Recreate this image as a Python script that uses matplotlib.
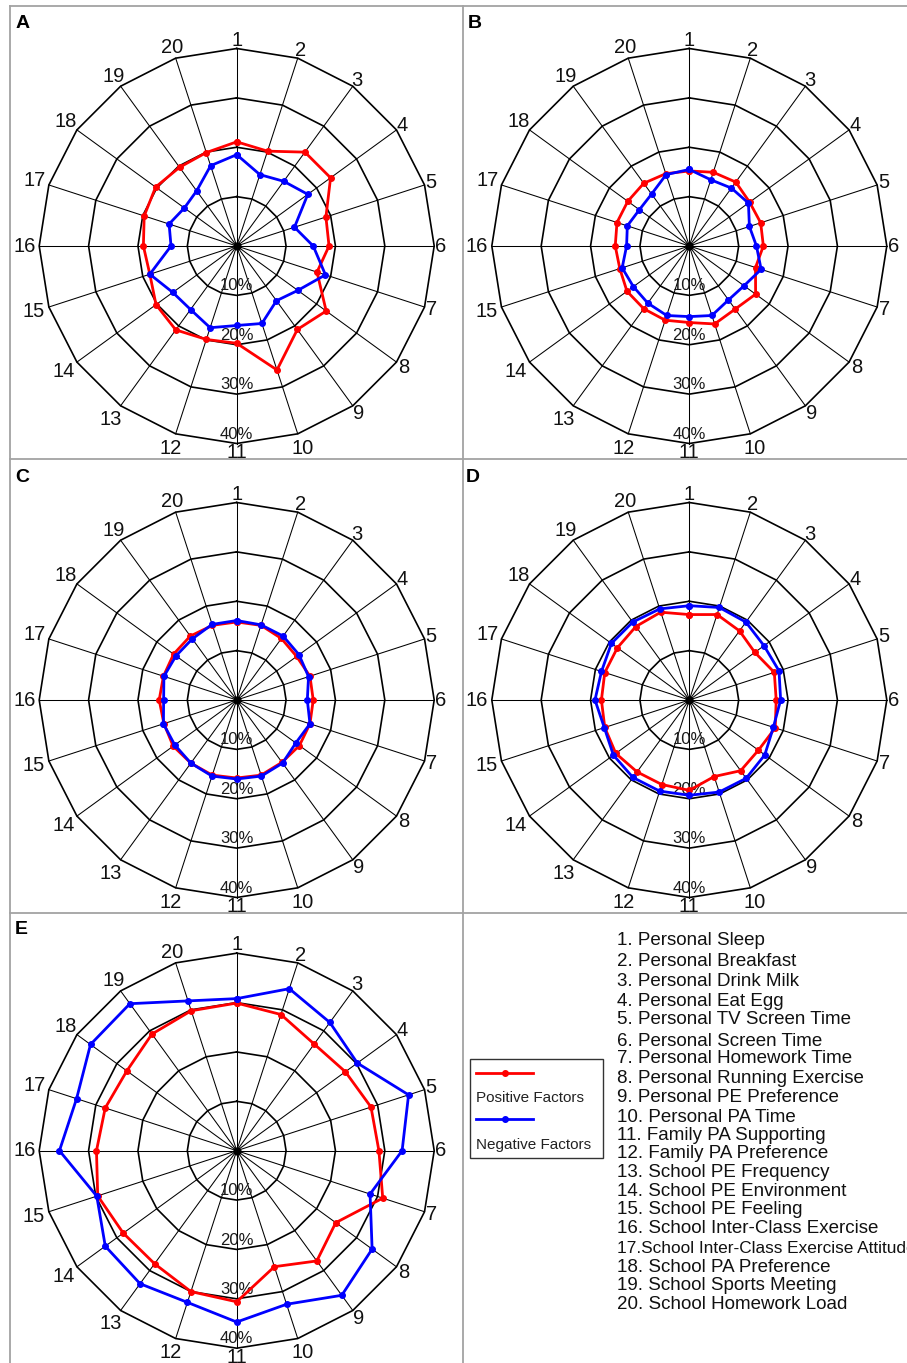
import numpy as np
import matplotlib
matplotlib.use("Agg")
import matplotlib.pyplot as plt
from matplotlib.lines import Line2D
from matplotlib.patches import Rectangle
from matplotlib.transforms import Bbox

plt.rcParams['font.family'] = ['Liberation Sans', 'DejaVu Sans']

W, H = 907, 1363

# ---------------------------------------------------------------- data
factor_names = [
    "1. Personal Sleep",
    "2. Personal Breakfast",
    "3. Personal Drink Milk",
    "4. Personal Eat Egg",
    "5. Personal TV Screen Time",
    "6. Personal Screen Time",
    "7. Personal Homework Time",
    "8. Personal Running Exercise",
    "9. Personal PE Preference",
    "10. Personal PA Time",
    "11. Family PA Supporting",
    "12. Family PA Preference",
    "13. School PE Frequency",
    "14. School PE Environment",
    "15. School PE Feeling",
    "16. School Inter-Class Exercise",
    "17.School Inter-Class Exercise Attitude",
    "18. School PA Preference",
    "19. School Sports Meeting",
    "20. School Homework Load",
]
axis_numbers = [str(i) for i in range(1, 21)]
ring_levels = [10, 20, 30, 40]
ring_labels = ["10%", "20%", "30%", "40%"]
series_names = ["Positive Factors", "Negative Factors"]
panel_letters = ["A", "B", "C", "D", "E"]

a_pos = [21.1, 20.2, 23.5, 23.5, 19.0, 18.7, 17.1, 22.4, 20.9, 26.4,
         19.7, 19.9, 21.0, 20.2, 18.5, 18.9, 19.7, 20.3, 19.7, 19.9]
a_neg = [18.5, 15.2, 16.2, 17.8, 12.3, 15.5, 18.9, 15.3, 13.7, 16.5,
         16.1, 17.4, 15.9, 16.0, 18.5, 13.3, 14.4, 13.1, 13.8, 17.1]
b_pos = [15.2, 15.7, 16.0, 15.1, 15.2, 15.0, 14.1, 16.6, 15.8, 16.6,
         15.5, 15.8, 15.7, 15.6, 14.8, 15.0, 15.4, 15.4, 15.7, 15.4]
b_neg = [15.5, 14.1, 14.5, 14.8, 12.8, 13.6, 15.3, 13.7, 13.5, 14.8,
         14.3, 14.8, 14.3, 14.0, 14.3, 12.7, 13.2, 12.5, 13.0, 15.2]
c_pos = [15.8, 15.9, 15.4, 15.0, 15.6, 15.5, 15.6, 15.7, 15.6, 16.0,
         15.8, 16.0, 15.8, 15.9, 15.5, 15.7, 15.6, 15.8, 16.0, 15.9]
c_neg = [16.1, 16.0, 16.0, 15.6, 15.3, 14.3, 15.6, 14.8, 15.8, 16.2,
         16.0, 16.2, 15.8, 15.5, 15.6, 14.8, 15.5, 15.2, 15.3, 16.1]
d_pos = [17.3, 18.2, 17.3, 16.4, 18.1, 17.6, 18.3, 17.3, 17.7, 16.3,
         18.3, 18.0, 18.0, 18.4, 18.0, 17.8, 18.0, 18.0, 18.4, 18.7]
d_neg = [19.1, 19.7, 19.5, 18.7, 19.1, 18.5, 17.9, 18.9, 19.6, 19.6,
         19.3, 19.4, 19.4, 19.0, 18.1, 19.1, 18.7, 19.5, 19.5, 19.4]
e_pos = [29.9, 29.0, 26.7, 27.2, 28.6, 28.8, 31.1, 24.8, 27.6, 24.7,
         30.6, 30.0, 28.3, 28.4, 29.6, 28.4, 28.0, 27.5, 29.2, 29.8]
e_neg = [30.8, 34.5, 32.1, 30.2, 36.6, 33.5, 28.4, 33.9, 36.2, 32.7,
         34.7, 32.3, 33.3, 32.9, 29.8, 35.9, 34.1, 36.6, 36.8, 31.9]

panels = [(a_pos, a_neg), (b_pos, b_neg), (c_pos, c_neg),
          (d_pos, d_neg), (e_pos, e_neg)]

# ---------------------------------------------------------------- layout (pixels, y measured from the top)
R_PX = 197.5
centers = [(236.7, 246.0), (689.3, 246.0), (236.7, 700.0),
           (689.3, 700.0), (236.7, 1150.7)]
panel_rects = [(10, 5.5, 463, 459), (463, 5.5, 907, 459),
               (10, 459, 463, 913), (463, 459, 907, 913),
               (10, 913, 463, 1363)]
letter_pos = [(16, 28.5), (468, 27.5), (15, 481.5), (466, 481.5), (15, 933.5)]
POS_COLOR = "#ff0000"
NEG_COLOR = "#0000ff"
GRID_COLOR = "#a3a3a3"


def fx(x):
    return x / W


def fy(y):
    return 1 - y / H


def label_radius(t, lab):
    """Radius for an axis number: wider labels sit further out at the sides."""
    s, c = abs(np.sin(t)), np.cos(t)
    if len(lab) == 1:
        return 41.7 + 0.6 * max(0.0, -c) - 0.3 * s
    return 41.8 + 1.2 * s + 1.0 * max(0.0, -c) * min(1.0, 3 * s)


fig = plt.figure(figsize=(W / 100, H / 100), dpi=100)

# panel frame
frame_lines = [
    ((10, 907), (5.5, 5.5)),
    ((10, 10), (5.5, 1363)),
    ((463, 463), (5.5, 1363)),
    ((10, 907), (459, 459)),
    ((10, 907), (913, 913)),
]
for xs, ys in frame_lines:
    fig.add_artist(Line2D([fx(x) for x in xs], [fy(y) for y in ys],
                          color=GRID_COLOR, lw=1.3, transform=fig.transFigure))

n = len(axis_numbers)
theta = np.arange(n) * 2 * np.pi / n
theta_closed = np.append(theta, theta[0])
rmax = ring_levels[-1]

for k, ((pos, neg), (cx, cy)) in enumerate(zip(panels, centers)):
    ax = fig.add_axes([fx(cx - R_PX), fy(cy + R_PX), 2 * R_PX / W, 2 * R_PX / H],
                      projection="polar")
    ax.set_theta_zero_location("N")
    ax.set_theta_direction(-1)
    ax.set_ylim(0, rmax)
    ax.grid(False)
    ax.set_xticks([])
    ax.set_yticks([])
    ax.spines["polar"].set_visible(False)
    ax.patch.set_visible(False)

    # spokes
    for t in theta:
        ax.plot([t, t], [0, rmax], color="black", lw=0.75, clip_on=False, zorder=1)
    # polygonal rings
    for lvl in ring_levels:
        ax.plot(theta_closed, [lvl] * (n + 1), color="black", lw=1.2,
                clip_on=False, zorder=1)
    ax.plot([0], [0], "o", color="black", ms=5, zorder=2)

    # ring value labels along the bottom spoke
    for lvl, lab in zip(ring_levels, ring_labels):
        ax.text(np.pi, lvl - 1.9, lab, ha="center", va="center",
                fontsize=12, color="#1a1a1a", zorder=3)

    # category numbers, clipped to the panel frame
    x0, y0, x1, y1 = panel_rects[k]
    clip = Bbox.from_extents(x0, H - y1, x1, H - y0)
    for t, lab in zip(theta, axis_numbers):
        txt = ax.text(t, label_radius(t, lab), lab, ha="center", va="center",
                      fontsize=14.5, color="#111111", zorder=3)
        txt.set_clip_on(True)
        txt.set_clip_box(clip)

    # series
    ax.plot(theta_closed, list(pos) + [pos[0]], color=POS_COLOR, lw=2.0,
            marker="o", ms=4, zorder=4)
    ax.plot(theta_closed, list(neg) + [neg[0]], color=NEG_COLOR, lw=2.0,
            marker="o", ms=4, zorder=5)

    lx, ly = letter_pos[k]
    fig.text(fx(lx), fy(ly), panel_letters[k], fontsize=14, fontweight="bold",
             ha="left", va="baseline")

# legend box
fig.add_artist(Rectangle((fx(470), fy(1157.7)), fx(603.3) - fx(470),
                         fy(1059.3) - fy(1157.7), transform=fig.transFigure,
                         fill=False, edgecolor="#333333", lw=1.0))
for (line_y, text_y), name, col in zip([(1072.7, 1098.3), (1119.0, 1144.3)],
                                       series_names, [POS_COLOR, NEG_COLOR]):
    fig.add_artist(Line2D([fx(476), fx(533.3)], [fy(line_y), fy(line_y)],
                          color=col, lw=2.0, transform=fig.transFigure))
    fig.add_artist(Line2D([fx(505)], [fy(line_y)], color=col, marker="o",
                          ms=4, transform=fig.transFigure))
    fig.text(fx(476), fy(text_y + 4.2), name, fontsize=11, color="#222222",
             ha="left", va="baseline")

# numbered factor list
list_y = [938.3, 959.0, 979.0, 999.0, 1017.7, 1039.0, 1056.0, 1076.7, 1095.0,
          1115.0, 1133.3, 1151.7, 1170.0, 1189.3, 1207.7, 1226.0, 1246.0,
          1265.7, 1283.3, 1302.3]
for name, y in zip(factor_names, list_y):
    size = 12.4 if name.startswith("17.") else 13.5
    fig.text(fx(616.7), fy(y + 6.6), name, fontsize=size, color="#111111",
             ha="left", va="baseline")

fig.savefig("out.png", dpi=100)
